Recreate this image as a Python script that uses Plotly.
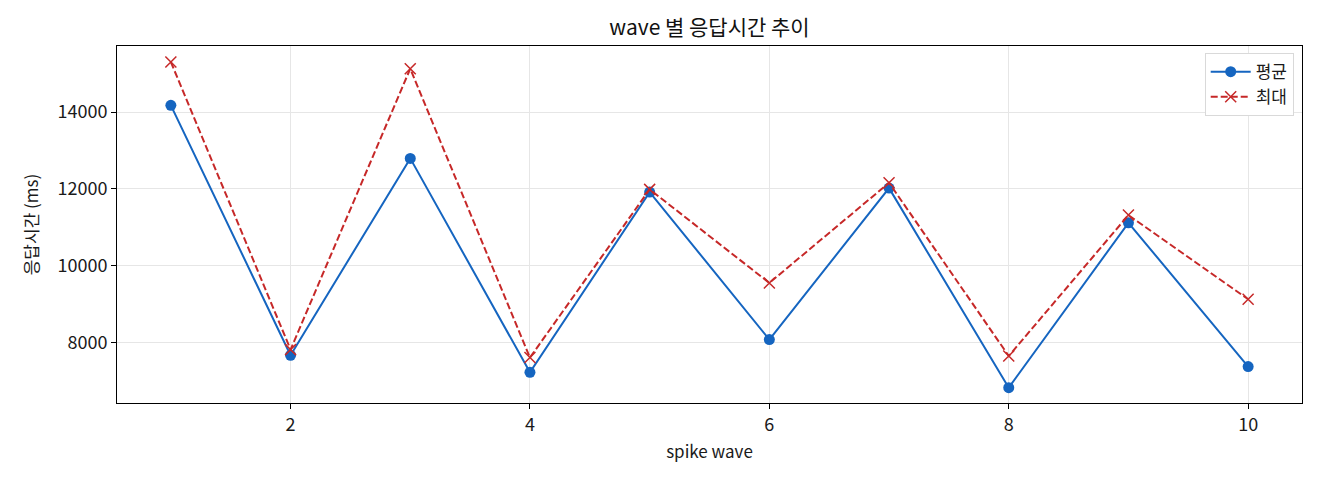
import plotly.graph_objects as go

waves = [1, 2, 3, 4, 5, 6, 7, 8, 9, 10]
avg_ms = [14175, 7670, 12794, 7226, 11916, 8078, 12020, 6826, 11117, 7374]
max_ms = [15302, 7817, 15128, 7609, 11987, 9552, 12159, 7651, 11318, 9128]

FONT = "Noto Sans CJK KR"

fig = go.Figure()
fig.add_trace(go.Scatter(
    x=waves, y=avg_ms, name="평균", mode="lines+markers",
    line=dict(color="#1565C0", width=2),
    marker=dict(symbol="circle", size=11, color="#1565C0")
))
fig.add_trace(go.Scatter(
    x=waves, y=max_ms, name="최대", mode="lines+markers",
    line=dict(color="#C62828", width=2, dash="7px,3px"),
    marker=dict(symbol="x-thin", size=11, color="#C62828",
                line=dict(color="#C62828", width=1.5))
))

# page has 8px body margin, so figure is sized to fit the 1320x480 window
fig.update_layout(
    width=1304, height=464,
    paper_bgcolor="white", plot_bgcolor="white",
    margin=dict(l=109, r=10, t=38, b=69),
    font=dict(family=FONT, size=17, color="#1a1a1a"),
    title=dict(text="wave 별 응답시간 추이", x=0.5, xref="paper", xanchor="center",
               y=0.957, yref="container", yanchor="middle",
               font=dict(size=21, color="#111")),
    legend=dict(x=0.993, y=0.98, xanchor="right", yanchor="top",
                bordercolor="#d9d9d9", borderwidth=1, bgcolor="white",
                font=dict(size=17), tracegroupgap=2, itemwidth=40),
    showlegend=True,
)
fig.update_xaxes(
    range=[0.55, 10.45], tickvals=[2, 4, 6, 8, 10],
    tickfont=dict(size=18),
    title=dict(text="spike wave", font=dict(size=17), standoff=11),
    showline=True, linecolor="black", linewidth=1, mirror=True,
    ticks="outside", ticklen=5, tickcolor="black",
    showgrid=True, gridcolor="#e6e6e6", zeroline=False
)
fig.update_yaxes(
    range=[6427, 15719], tickvals=[8000, 10000, 12000, 14000],
    tickformat="d", tickfont=dict(size=18),
    title=dict(text="응답시간 (ms)", font=dict(size=17), standoff=14),
    showline=True, linecolor="black", linewidth=1, mirror=True,
    ticks="outside", ticklen=5, tickcolor="black",
    showgrid=True, gridcolor="#e6e6e6", zeroline=False
)

fig.write_html("out.html")
